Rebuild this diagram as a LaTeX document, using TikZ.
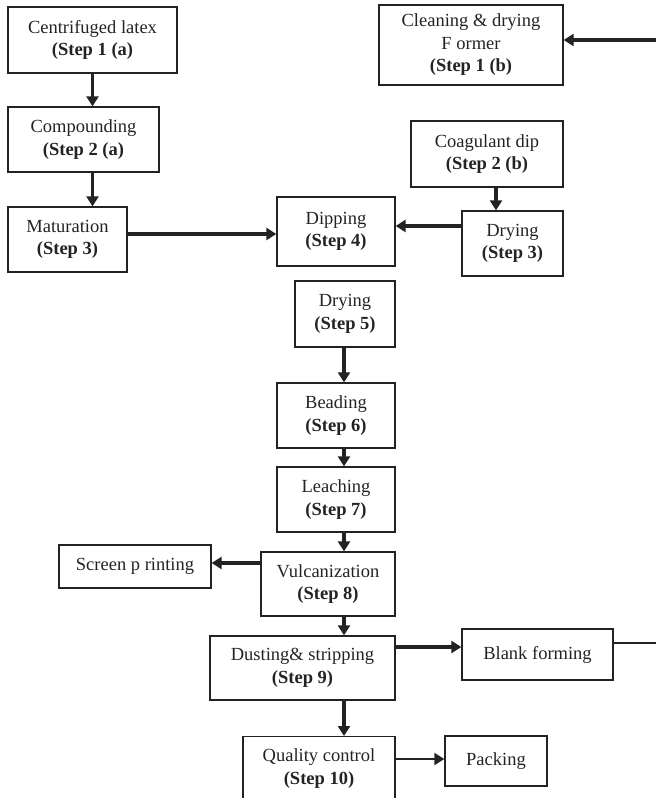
\documentclass[tikz,border=0pt]{standalone}
\usepackage{fontspec}
\setmainfont{Liberation Serif}
\usetikzlibrary{arrows.meta}
\definecolor{ink}{RGB}{35,35,35}
\begin{document}
\begin{tikzpicture}[x=1pt,y=-1pt,
  box/.style={draw=ink, line width=1.3pt, inner sep=0pt, align=center, text=ink,
    font=\fontsize{18.5}{22.5}\selectfont},
  thickarr/.style={draw=ink, line width=3.3pt, -{Triangle[length=10pt,width=12pt]}},
  thinarr/.style={draw=ink, line width=1.8pt, -{Triangle[length=10pt,width=12pt]}},
  plainline/.style={draw=ink, line width=1.5pt}
]
\useasboundingbox (0,0) rectangle (656,798);
\clip (0,0) rectangle (656,798);

\node[box, minimum width=169pt, minimum height=66pt] (c1) at (92.5,40) {Centrifuged latex\\\textbf{(Step 1 (a)}};
\node[box, minimum width=151pt, minimum height=65pt] (c2) at (83.5,139.5) {Compounding\\\textbf{(Step 2 (a)}};
\node[box, minimum width=184pt, minimum height=80pt] (clean) at (471,45) {Cleaning \& drying\\F ormer\\\textbf{(Step 1 (b)}};
\node[box, minimum width=152pt, minimum height=66pt] (coag) at (487,154) {Coagulant dip\\\textbf{(Step 2 (b)}};
\node[box, minimum width=119pt, minimum height=65pt] (mat) at (67.5,239.5) {Maturation\\\textbf{(Step 3)}};
\node[box, minimum width=118pt, minimum height=69pt] (dip) at (336,231.5) {Dipping\\\textbf{(Step 4)}};
\node[box, minimum width=101pt, minimum height=65pt] (dry3) at (512.5,243.5) {Drying\\\textbf{(Step 3)}};
\node[box, minimum width=100pt, minimum height=66pt] (dry5) at (345,314) {Drying\\\textbf{(Step 5)}};
\node[box, minimum width=118pt, minimum height=65pt] (bead) at (336,415.5) {Beading\\\textbf{(Step 6)}};
\node[box, minimum width=118pt, minimum height=65pt] (leach) at (336,499.5) {Leaching\\\textbf{(Step 7)}};
\node[box, minimum width=134pt, minimum height=64pt] (vulc) at (328,584) {Vulcanization\\\textbf{(Step 8)}};
\node[box, minimum width=152pt, minimum height=43pt] (screen) at (135,566.5) {Screen p rinting};
\node[box, minimum width=185pt, minimum height=64pt] (dust) at (302.5,668) {Dusting\& stripping\\\textbf{(Step 9)}};
\node[box, minimum width=151pt, minimum height=51pt] (blank) at (537.5,654.5) {Blank forming};
\node[box, minimum width=152pt, minimum height=64pt, anchor=north] (qc) at (319,736) {Quality control\\\textbf{(Step 10)}};
\node[box, minimum width=102pt, minimum height=50pt] (pack) at (496,761) {Packing};

\coordinate (rin) at (656,40);
\coordinate (col) at (344,0);

\draw[thickarr] (c1.south) -- (c1.south |- c2.north);
\draw[thickarr] (c2.south -| c1.south) -- (c1.south |- mat.north);
\draw[thickarr] (rin) -- (rin -| clean.east);
\draw[thickarr] ([xshift=9pt]coag.south) -- ([xshift=9pt]coag.south |- dry3.north);
\draw[thickarr] ([yshift=5.5pt]mat.east) -- ([yshift=5.5pt]mat.east -| dip.west);
\draw[thickarr] ([yshift=17.5pt]dry3.west) -- ([yshift=17.5pt]dry3.west -| dip.east);
\draw[thickarr] (dry5.south -| col) -- (col |- bead.north);
\draw[thickarr] (bead.south -| col) -- (col |- leach.north);
\draw[thickarr] (leach.south -| col) -- (col |- vulc.north);
\draw[thickarr] ([yshift=21pt]vulc.west) -- ([yshift=21pt]vulc.west -| screen.east);
\draw[thickarr] (vulc.south -| col) -- (col |- dust.north);
\draw[thickarr] ([yshift=21pt]dust.east) -- ([yshift=21pt]dust.east -| blank.west);
\draw[plainline] ([yshift=11.5pt]blank.east) -- ([yshift=11.5pt]blank.east -| rin);
\draw[thickarr] (dust.south -| col) -- (col |- qc.north);
\draw[thinarr] ([yshift=2pt]pack.west -| qc.east) -- ([yshift=2pt]pack.west);
\end{tikzpicture}
\end{document}
